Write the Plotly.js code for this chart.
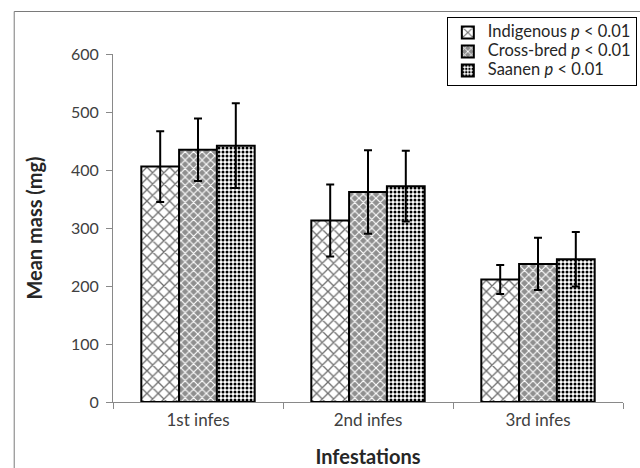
<!DOCTYPE html>
<html>
<head>
<meta charset="utf-8">
<script src="https://cdn.plot.ly/plotly-3.0.1.min.js"></script>
<style>html,body{margin:0;padding:0;background:#fff}</style>
</head>
<body>
<div id="chart" style="width:640px;height:468px"></div>
<script>
const categories = ["1st infes", "2nd infes", "3rd infes"];
const seriesNames = ["Indigenous <i>p</i> &lt; 0.01", "Cross-bred <i>p</i> &lt; 0.01", "Saanen <i>p</i> &lt; 0.01"];
const indigenous = [406, 313, 211];
const indigenousErr = [61, 62, 25];
const crossbred = [435, 362, 238];
const crossbredErr = [54, 72, 45];
const saanen = [442, 372, 246];
const saanenErr = [73, 61, 47];
const yTicks = [0, 100, 200, 300, 400, 500, 600];

const patterns = [
  {shape: "x", fgcolor: "#6e6e6e", bgcolor: "#ffffff", size: 8, solidity: 0.3},
  {shape: "x", fgcolor: "#ffffff", bgcolor: "#8f8f8f", size: 6, solidity: 0.35},
  {shape: ".", fgcolor: "#000000", bgcolor: "#ffffff", size: 4, solidity: 0.45}
];
const values = [indigenous, crossbred, saanen];
const errs = [indigenousErr, crossbredErr, saanenErr];

const traces = values.map((v, i) => ({
  type: "bar",
  name: "<span style='font-size:16.5px'>" + seriesNames[i] + "</span>",
  x: categories,
  y: v,
  marker: {color: patterns[i].bgcolor, line: {color: "#000", width: 2}, pattern: patterns[i]},
  error_y: {type: "data", array: errs[i], visible: true, color: "#000", thickness: 2, width: 4}
}));

const font = "Lato, 'Open Sans', sans-serif";
const layout = {
  width: 640, height: 468,
  margin: {l: 113, r: 3, t: 54, b: 66},
  paper_bgcolor: "#fff", plot_bgcolor: "#fff",
  font: {family: font, color: "#404040", size: 16},
  barmode: "group", bargap: 0.333, bargroupgap: 0,
  showlegend: true,
  legend: {x: (456-113)/524, y: (402-17)/348, xanchor: "left", yanchor: "top", bgcolor: "#fff",
    bordercolor: "#000", borderwidth: 1, font: {family: font, size: 12, color: "#262626"},
    tracegroupgap: 0, itemwidth: 30},
  xaxis: {
    showgrid: false, showline: true, linecolor: "#898989", linewidth: 1,
    ticks: "outside", tickson: "boundaries", ticklen: 6, tickcolor: "#898989", ticklabelstandoff: 3,
    tickfont: {size: 17, color: "#404040"},
    title: {text: "<b>Infestations</b>", font: {size: 20, color: "#262626"}, standoff: 20}
  },
  yaxis: {
    range: [0, 600], tickvals: yTicks, showgrid: false, zeroline: false,
    showline: true, linecolor: "#898989", linewidth: 1,
    ticks: "outside", ticklen: 6, tickcolor: "#898989", ticklabelstandoff: 4,
    tickfont: {size: 16, color: "#404040"},
    title: {text: "<b>Mean mass (mg)</b>", font: {size: 20, color: "#262626"}, standoff: 22}
  },
  shapes: [
    {type: "line", xref: "paper", yref: "paper", x0: (11.5-113)/524, x1: (11.5-113)/524, y0: (402-11.5)/348, y1: (402-480)/348, line: {color: "#7a7a7a", width: 1}},
    {type: "line", xref: "paper", yref: "paper", x0: (11.5-113)/524, x1: (660-113)/524, y0: (402-11.5)/348, y1: (402-11.5)/348, line: {color: "#7a7a7a", width: 1}}
  ]
};
Plotly.newPlot("chart", traces, layout, {displayModeBar: false, staticPlot: true});
</script>
</body>
</html>
